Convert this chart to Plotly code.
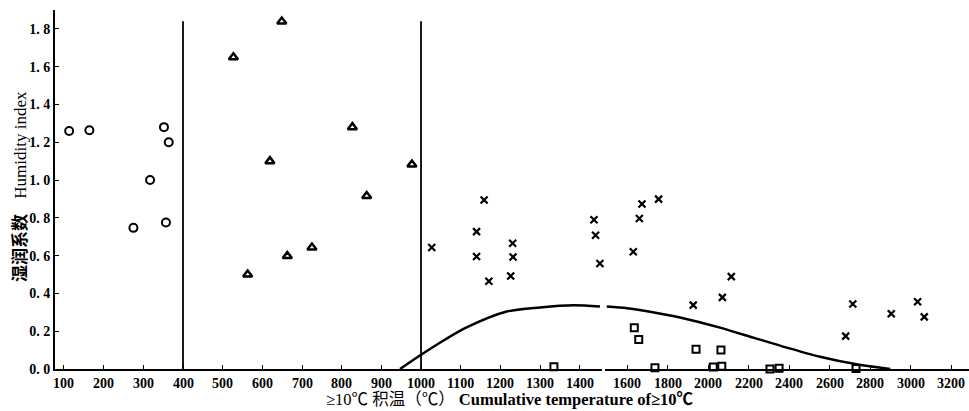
import plotly.graph_objects as go

# ---- data ----
circle_x = [113, 164, 352, 364, 317, 275, 357]
circle_y = [1.26, 1.264, 1.28, 1.20, 1.00, 0.747, 0.775]

tri_x = [649, 527, 827, 619, 977, 863, 725, 663, 563]
tri_y = [1.839, 1.65, 1.28, 1.10, 1.082, 0.915, 0.643, 0.598, 0.50]

cross_left_x = [1027, 1159, 1140, 1140, 1171, 1231, 1232, 1226, 1436, 1440, 1451]
cross_left_y = [0.643, 0.894, 0.727, 0.595, 0.464, 0.666, 0.593, 0.492, 0.79, 0.708, 0.558]
cross_right_x = [1631, 1674, 1661, 1756, 1927, 2071, 2115, 2680, 2715, 2905, 3035, 3068]
cross_right_y = [0.621, 0.873, 0.797, 0.899, 0.338, 0.379, 0.489, 0.174, 0.344, 0.292, 0.356, 0.276]

square_left_x = [1335]
square_left_y = [0.012]
square_right_x = [1636, 1658, 1738, 1941, 2064, 2026, 2068, 2306, 2351, 2731]
square_right_y = [0.218, 0.156, 0.007, 0.105, 0.10, 0.01, 0.014, 0.0, 0.004, 0.002]

curve_left_x = [947, 1002, 1060, 1115, 1216, 1300, 1384, 1451]
curve_left_y = [0.0, 0.078, 0.155, 0.22, 0.304, 0.326, 0.338, 0.331]
curve_right_x = [1500, 1600, 1714, 1862, 2059, 2224, 2389, 2553, 2734, 2900]
curve_right_y = [0.331, 0.322, 0.303, 0.273, 0.219, 0.166, 0.113, 0.065, 0.025, 0.0]

divider_x = [400, 1000]
divider_top = 1.84

left_ticks = [100, 200, 300, 400, 500, 600, 700, 800, 900, 1000, 1100, 1200, 1300, 1400]
right_ticks = [1600, 1800, 2000, 2200, 2400, 2600, 2800, 3000, 3200]
y_ticks = [0.0, 0.2, 0.4, 0.6, 0.8, 1.0, 1.2, 1.4, 1.6, 1.8]
y_ticktext = ["0. 0", "0. 2", "0. 4", "0. 6", "0. 8", "1. 0", "1. 2", "1. 4", "1. 6", "1. 8"]

# ---- figure ----
W, H = 969, 411
ML, MR, MT, MB = 55, 0, 10, 42
PW = W - ML - MR
PH = H - MT - MB

def px_x(p):
    return (p - ML) / PW

def px_y(p):
    return (H - MB - p) / PH

serif = "Liberation Serif"
fig = go.Figure()

fig.add_trace(go.Scatter(x=circle_x, y=circle_y, mode="markers", xaxis="x", yaxis="y",
                         marker=dict(symbol="circle-open", size=8, color="black", line=dict(width=2, color="black")),
                         cliponaxis=False, showlegend=False))
fig.add_trace(go.Scatter(x=tri_x, y=tri_y, mode="markers", xaxis="x", yaxis="y",
                         marker=dict(symbol="triangle-up-open", size=8, color="black", line=dict(width=2.5, color="black")),
                         cliponaxis=False, showlegend=False))
for xs, ys, ax in [(cross_left_x, cross_left_y, "x"), (cross_right_x, cross_right_y, "x2")]:
    fig.add_trace(go.Scatter(x=xs, y=ys, mode="markers", xaxis=ax, yaxis="y",
                             marker=dict(symbol="x-thin-open", size=7, color="black", line=dict(width=2.2, color="black")),
                             cliponaxis=False, showlegend=False))
for xs, ys, ax in [(square_left_x, square_left_y, "x"), (square_right_x, square_right_y, "x2")]:
    fig.add_trace(go.Scatter(x=xs, y=ys, mode="markers", xaxis=ax, yaxis="y",
                             marker=dict(symbol="square-open", size=7, color="black", line=dict(width=2, color="black")),
                             cliponaxis=False, showlegend=False))
for xs, ys, ax in [(curve_left_x, curve_left_y, "x"), (curve_right_x, curve_right_y, "x2")]:
    fig.add_trace(go.Scatter(x=xs, y=ys, mode="lines", xaxis=ax, yaxis="y",
                             line=dict(color="black", width=2.5, shape="spline", smoothing=0.8),
                             cliponaxis=False, showlegend=False))

for dx in divider_x:
    fig.add_shape(type="line", xref="x", yref="y", x0=dx, x1=dx, y0=0, y1=divider_top,
                  line=dict(color="black", width=1.8))

tickfont = dict(family=serif, size=14, color="black", weight="bold")

LS = 0.3967  # px per unit on the left segment (400 -> 183 px)
left_start = 400 + (ML - 183) / LS
left_end = 400 + (602 - 183) / LS
right_start = 1600 + (605 - 627) / 0.2025
right_end = 1600 + (W - MR - 627) / 0.2025

axis_common = dict(ticks="inside", ticklen=4, tickwidth=1.2, tickcolor="black",
                   showline=True, linecolor="black", linewidth=2, showgrid=False, zeroline=False)

fig.update_layout(
    width=W, height=H,
    margin=dict(l=ML, r=MR, t=MT, b=MB, pad=0),
    paper_bgcolor="white", plot_bgcolor="white",
    xaxis=dict(domain=[0, px_x(602)], range=[left_start, left_end], anchor="y",
               tickvals=left_ticks, showticklabels=False, **axis_common),
    xaxis2=dict(domain=[px_x(605), 1], range=[right_start, right_end], anchor="y",
                tickvals=right_ticks, showticklabels=False, **axis_common),
    yaxis=dict(range=[0, 1.9], anchor="x", tickvals=y_ticks, ticktext=y_ticktext,
               tickfont=tickfont, **axis_common),
)

# x tick labels placed just below the axis line
for ticks, ref in [(left_ticks, "x"), (right_ticks, "x2")]:
    for t in ticks:
        fig.add_annotation(xref=ref, yref="paper", x=t, y=px_y(374), text=str(t),
                           xanchor="center", yanchor="top", showarrow=False,
                           font=tickfont)

fig.add_annotation(
    xref="paper", yref="paper", x=px_x(18), y=px_y(187), textangle=-90,
    xanchor="center", yanchor="middle", showarrow=False,
    text="<span style='font-size:17px;font-weight:bold'>湿润系数</span>&nbsp;&nbsp;&nbsp;&nbsp;<span style='font-size:17px;font-family:Liberation Serif'>Humidity index</span>",
    font=dict(family="Noto Sans CJK SC", size=17, color="black"),
)
fig.add_annotation(
    xref="paper", yref="paper", x=px_x(510), y=px_y(399),
    xanchor="center", yanchor="middle", showarrow=False,
    text="≥10℃ 积温（℃） <b>Cumulative temperature of≥10℃</b>",
    font=dict(family="Liberation Serif, Noto Sans CJK SC", size=16.5, color="black"),
)

fig.write_html("out.html", config={"displayModeBar": False},
               post_script="document.body.style.margin='0';")
